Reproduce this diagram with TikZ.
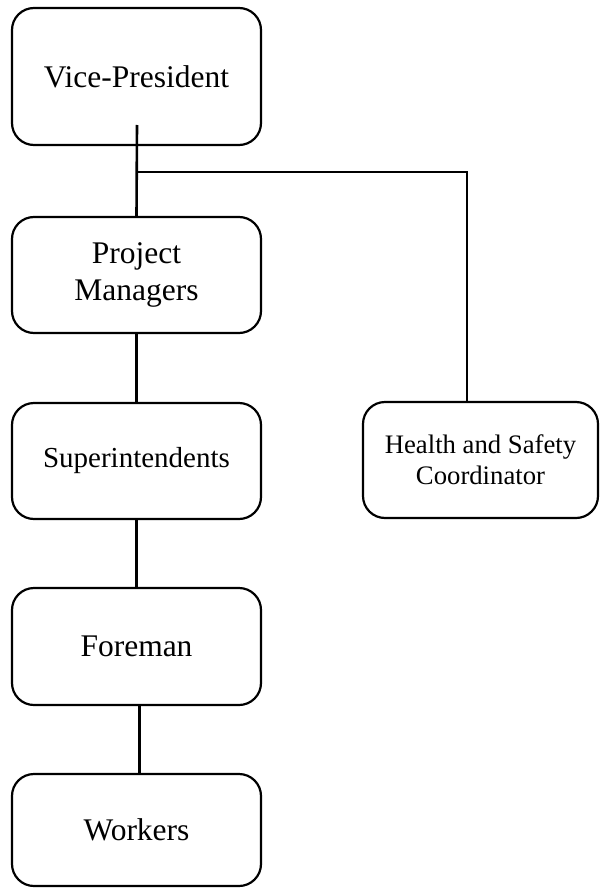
\documentclass[tikz,border=0pt]{standalone}
\usepackage{fontspec}
\setmainfont{Liberation Serif}
\begin{document}
\begin{tikzpicture}[x=1pt,y=-1pt,
  box/.style={draw, line width=2.2pt, rounded corners=22pt, inner sep=0pt, align=center,
    minimum width=249pt, font=\fontsize{31.5}{36.5}\selectfont},
  conn/.style={line width=2.6pt}]
\useasboundingbox (0,0) rectangle (600,888);
\node[box, minimum height=137pt] (vp) at (136.5,76.5) {Vice-President};
\node[box, minimum height=116pt] (pm) at (136.5,275) {Project\\Managers};
\node[box, minimum height=116pt, font=\fontsize{29}{33}\selectfont] (sup) at (136.5,461) {Superintendents};
\node[box, minimum height=117pt] (fm) at (136.5,646.5) {Foreman};
\node[box, minimum height=112pt] (wk) at (136.5,830) {Workers};
\node[box, minimum width=235pt, minimum height=116pt, font=\fontsize{26.7}{30.7}\selectfont] (hsc) at (480.5,460) {Health and Safety\\Coordinator};
\coordinate (vpin) at (137,125);
\coordinate (jn) at (137,172);
\draw[conn] (vpin) -- (pm.north);
\draw[conn] (jn) -| ([xshift=-13.5pt]hsc.north);
\draw[conn] (pm.south) -- (sup.north);
\draw[conn] (sup.south) -- (fm.north);
\draw[conn] ([xshift=3pt]fm.south) -- ([xshift=3pt]wk.north);
\end{tikzpicture}
\end{document}
